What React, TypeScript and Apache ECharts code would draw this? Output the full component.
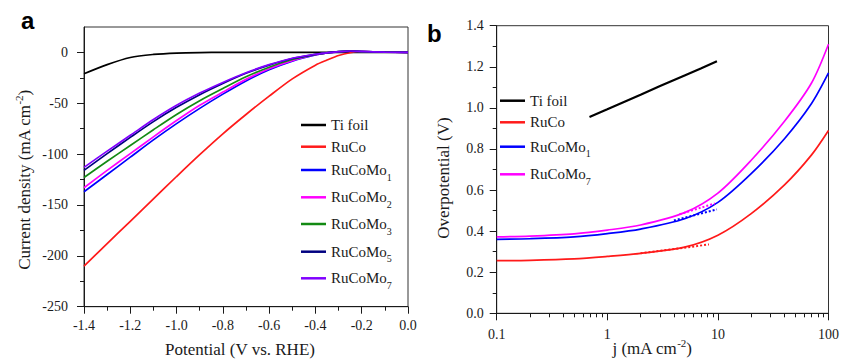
import React, { useEffect, useRef } from 'react';
import * as echarts from 'echarts';

// ---------- Panel a data (LSV curves) ----------
const potential = [-1.4, -1.3, -1.2, -1.1, -1.0, -0.9, -0.8, -0.7, -0.6, -0.5, -0.4, -0.35, -0.3, -0.25, -0.2, -0.1, 0];
const aTiFoil = [-21, -12, -5, -2, -0.6, -0.1, 0, 0, 0, 0, 0, 0, 0, 0, 0, 0, 0];
const aRuCo = [-210, -188, -166, -144, -122, -100.5, -80, -61, -43, -26, -12.5, -7.5, -3, -0.3, 0.9, 0.3, 0];
const aRuCoMo1 = [-137, -120, -103, -86, -70, -55, -41, -28, -17, -8.5, -2.5, -0.5, 0.6, 1.2, 0.8, 0.3, 0];
const aRuCoMo2 = [-133, -116, -99.5, -83, -67, -52, -39, -26.5, -16, -8, -2.3, -0.5, 0.6, 1.2, 0.8, 0.3, 0];
const aRuCoMo3 = [-123, -107, -91.5, -76, -61, -47.5, -35.5, -24, -14.5, -7, -2, -0.4, 0.7, 1.2, 0.8, 0.3, 0];
const aRuCoMo5 = [-116, -99.5, -83.5, -68, -54, -41.5, -30.5, -20.5, -12.5, -6, -2, -0.5, 0.7, 1.3, 0.9, 0.3, 0];
const aRuCoMo7 = [-113, -97, -81.5, -66, -52, -40, -29.5, -20, -12, -5.7, -1.8, -0.4, 0.8, 1.4, 1, 0.3, 0];

const aXMajor = [-1.4, -1.2, -1.0, -0.8, -0.6, -0.4, -0.2, 0];
const aXMinor = [-1.3, -1.1, -0.9, -0.7, -0.5, -0.3, -0.1];
const aYMajor = [-250, -200, -150, -100, -50, 0];
const aYMinor = [-225, -175, -125, -75, -25];

// ---------- Panel b data (Tafel plots) ----------
const jCurve = [0.1, 0.2, 0.5, 1, 2, 5, 10, 20, 40, 70, 100];
const bRuCo = [0.256, 0.258, 0.265, 0.277, 0.292, 0.322, 0.38, 0.485, 0.625, 0.77, 0.89];
const bRuCoMo1 = [0.36, 0.363, 0.372, 0.388, 0.41, 0.46, 0.54, 0.68, 0.85, 1.02, 1.17];
const bRuCoMo7 = [0.372, 0.376, 0.387, 0.405, 0.43, 0.49, 0.585, 0.745, 0.935, 1.12, 1.31];
const jTi = [0.69, 1, 2, 3, 5, 7, 9.8];
const bTiFoil = [0.956, 0.993, 1.064, 1.106, 1.158, 1.192, 1.227];
const fitRuCoJ = [2, 8.3];
const fitRuCo = [0.292, 0.335];
const fitMo1J = [4, 9.8];
const fitMo1 = [0.452, 0.506];
const fitMo7J = [4.5, 9.4];
const fitMo7 = [0.482, 0.535];

const bXMajor = [0.1, 1, 10, 100];
const bXMinor = [0.2, 0.3, 0.4, 0.5, 0.6, 0.7, 0.8, 0.9, 2, 3, 4, 5, 6, 7, 8, 9, 20, 30, 40, 50, 60, 70, 80, 90];
const bYMajor = [0, 0.2, 0.4, 0.6, 0.8, 1.0, 1.2, 1.4];
const bYMinor = [0.1, 0.3, 0.5, 0.7, 0.9, 1.1, 1.3];

const SERIF = 'Liberation Serif';
const SANS = 'Liberation Sans';
const INK = '#1a1a1a';

const COLORS: Record<string, string> = {
  'Ti foil': '#000000',
  RuCo: '#ff1a1a',
  RuCoMo1: '#0000ff',
  RuCoMo2: '#ff00ff',
  RuCoMo3: '#138a13',
  RuCoMo5: '#000080',
  RuCoMo7: '#8000ff',
  'b Ti foil': '#000000',
  'b RuCo': '#ff1a1a',
  'b RuCoMo1': '#0000ff',
  'b RuCoMo7': '#ff00ff',
};

const zip = (xs: number[], ys: number[]) => xs.map((x, i) => [x, ys[i]]);

function majorAxis(gridIndex: number, type: string, min: number, max: number, position: string,
  ticks: number[], margin: number, formatter: (v: number) => string) {
  return {
    type, gridIndex, min, max, position, offset: 0,
    ...(type === 'log' ? { logBase: 10 } : {}),
    axisLine: { show: true, onZero: false, lineStyle: { color: INK, width: 1 } },
    axisTick: { show: true, inside: false, length: 7, customValues: ticks, lineStyle: { color: INK, width: 1 } },
    axisLabel: {
      show: true, customValues: ticks, margin,
      formatter: (v: number) => `{t|${formatter(v)}}`,
      color: INK, fontFamily: SERIF, fontSize: 14,
      rich: { t: { fontFamily: SERIF, fontSize: 14, color: INK } },
    },
    splitLine: { show: false },
    minorTick: { show: false },
  };
}
function minorAxis(gridIndex: number, type: string, min: number, max: number, position: string, ticks: number[]) {
  return {
    type, gridIndex, min, max, position, offset: 0,
    ...(type === 'log' ? { logBase: 10 } : {}),
    axisLine: { show: false, onZero: false },
    axisTick: { show: true, inside: false, length: 4, customValues: ticks, lineStyle: { color: INK, width: 1 } },
    axisLabel: { show: false },
    splitLine: { show: false },
  };
}

function line(name: string, data: number[][], axisIdx: number, opts: any = {}) {
  const color = COLORS[name];
  return {
    type: 'line', name, data, xAxisIndex: axisIdx, yAxisIndex: axisIdx,
    symbol: 'none', showSymbol: false, smooth: 0.3,
    lineStyle: { color, width: 1.7 }, itemStyle: { color },
    emphasis: { disabled: true },
    ...opts,
  };
}
function fit(color: string, data: number[][]) {
  return {
    type: 'line', data, xAxisIndex: 2, yAxisIndex: 2, symbol: 'none', showSymbol: false,
    lineStyle: { color, width: 2, type: 'dotted' }, itemStyle: { color }, emphasis: { disabled: true },
  };
}

const richText = {
  m: { fontFamily: SERIF, fontSize: 15, color: INK, lineHeight: 24 },
  s: { fontFamily: SERIF, fontSize: 10, color: INK, lineHeight: 24, verticalAlign: 'bottom' },
};
function legendLabel(name: string) {
  const n = name.replace(/^b /, '');
  const m = n.match(/^(RuCoMo)(\d)$/);
  if (m) return `{m|${m[1]}}{s|${m[2]}}`;
  return `{m|${n}}`;
}
function legendItem(name: string, left: number, lineY: number) {
  return {
    data: [name], left, top: lineY - 12, orient: 'vertical', padding: 0, itemGap: 0,
    itemWidth: 25, itemHeight: 2.5, icon: 'rect', selectedMode: false,
    formatter: legendLabel,
    textStyle: { fontFamily: SERIF, fontSize: 15, color: INK, lineHeight: 24, rich: richText },
  };
}

export default function App() {
  const ref = useRef<HTMLDivElement>(null);
  useEffect(() => {
    if (!ref.current) return;
    const chart = echarts.init(ref.current, undefined, { renderer: 'svg' });
    const fmt1 = (v: number) => (Math.abs(v) < 1e-9 ? 0 : v).toFixed(1);
    const option: any = {
      animation: false,
      backgroundColor: '#ffffff',
      textStyle: { fontFamily: SERIF },
      grid: [
        { left: 84, top: 27, width: 324, height: 279.7, show: true, borderColor: '#333', borderWidth: 1, backgroundColor: 'transparent' },
        { left: 496.7, top: 25.7, width: 334, height: 287.6, show: true, borderColor: '#333', borderWidth: 1, backgroundColor: 'transparent' },
      ],
      xAxis: [
        majorAxis(0, 'value', -1.4, 0, 'bottom', aXMajor, 12, fmt1),
        minorAxis(0, 'value', -1.4, 0, 'bottom', aXMinor),
        majorAxis(1, 'log', 0.1, 100, 'bottom', bXMajor, 14, (v: number) => String(v)),
        minorAxis(1, 'log', 0.1, 100, 'bottom', bXMinor),
      ],
      yAxis: [
        majorAxis(0, 'value', -250, 25, 'left', aYMajor, 16, (v: number) => String(v)),
        minorAxis(0, 'value', -250, 25, 'left', aYMinor),
        majorAxis(1, 'value', 0, 1.4, 'left', bYMajor, 13, fmt1),
        minorAxis(1, 'value', 0, 1.4, 'left', bYMinor),
      ],
      legend: [
        legendItem('Ti foil', 301, 125),
        legendItem('RuCo', 301, 146.7),
        legendItem('RuCoMo1', 301, 170),
        legendItem('RuCoMo2', 301, 197.3),
        legendItem('RuCoMo3', 301, 224),
        legendItem('RuCoMo5', 301, 251.7),
        legendItem('RuCoMo7', 301, 278.3),
        legendItem('b Ti foil', 500, 100.7),
        legendItem('b RuCo', 500, 122.3),
        legendItem('b RuCoMo1', 500, 146.7),
        legendItem('b RuCoMo7', 500, 174.3),
      ],
      series: [
        line('Ti foil', zip(potential, aTiFoil), 0),
        line('RuCo', zip(potential, aRuCo), 0),
        line('RuCoMo1', zip(potential, aRuCoMo1), 0),
        line('RuCoMo2', zip(potential, aRuCoMo2), 0),
        line('RuCoMo3', zip(potential, aRuCoMo3), 0),
        line('RuCoMo5', zip(potential, aRuCoMo5), 0),
        line('RuCoMo7', zip(potential, aRuCoMo7), 0),
        line('b Ti foil', zip(jTi, bTiFoil), 2, { smooth: false, lineStyle: { color: '#000', width: 2.2 } }),
        line('b RuCo', zip(jCurve, bRuCo), 2),
        line('b RuCoMo1', zip(jCurve, bRuCoMo1), 2),
        line('b RuCoMo7', zip(jCurve, bRuCoMo7), 2),
        fit(COLORS['b RuCo'], zip(fitRuCoJ, fitRuCo)),
        fit(COLORS['b RuCoMo1'], zip(fitMo1J, fitMo1)),
        fit(COLORS['b RuCoMo7'], zip(fitMo7J, fitMo7)),
      ],
      graphic: [
        { type: 'text', x: 21, y: 20, style: { text: 'a', fontFamily: SANS, fontWeight: 'bold', fontSize: 24, fill: '#000', align: 'left', verticalAlign: 'middle' } },
        { type: 'text', x: 427, y: 33.4, style: { text: 'b', fontFamily: SANS, fontWeight: 'bold', fontSize: 24, fill: '#000', align: 'left', verticalAlign: 'middle' } },
        { type: 'text', x: 240, y: 349.5, style: { text: 'Potential (V vs. RHE)', fontFamily: SERIF, fontSize: 17, fill: INK, align: 'center', verticalAlign: 'middle' } },
        {
          type: 'text', x: 652, y: 348.6,
          style: {
            text: '{m|j (mA cm}{s|-2}{m|)}', align: 'center', verticalAlign: 'middle', fill: INK,
            rich: {
              m: { fontFamily: SERIF, fontSize: 17, lineHeight: 22, fill: INK },
              s: { fontFamily: SERIF, fontSize: 11, lineHeight: 22, verticalAlign: 'top', fill: INK },
            },
          },
        },
        {
          type: 'text', x: 24.3, y: 180, rotation: Math.PI / 2,
          style: {
            text: '{m|Current density (mA cm}{s|-2}{m|)}', align: 'center', verticalAlign: 'middle', fill: INK,
            rich: {
              m: { fontFamily: SERIF, fontSize: 17, lineHeight: 22, fill: INK },
              s: { fontFamily: SERIF, fontSize: 11, lineHeight: 22, verticalAlign: 'top', fill: INK },
            },
          },
        },
        { type: 'text', x: 443.3, y: 178, rotation: Math.PI / 2, style: { text: 'Overpotential (V)', fontFamily: SERIF, fontSize: 17, fill: INK, align: 'center', verticalAlign: 'middle' } },
      ],
    };
    chart.setOption(option);
    return () => chart.dispose();
  }, []);
  return <div ref={ref} style={{ position: 'absolute', left: 0, top: 0, width: 842, height: 359 }} />;
}
